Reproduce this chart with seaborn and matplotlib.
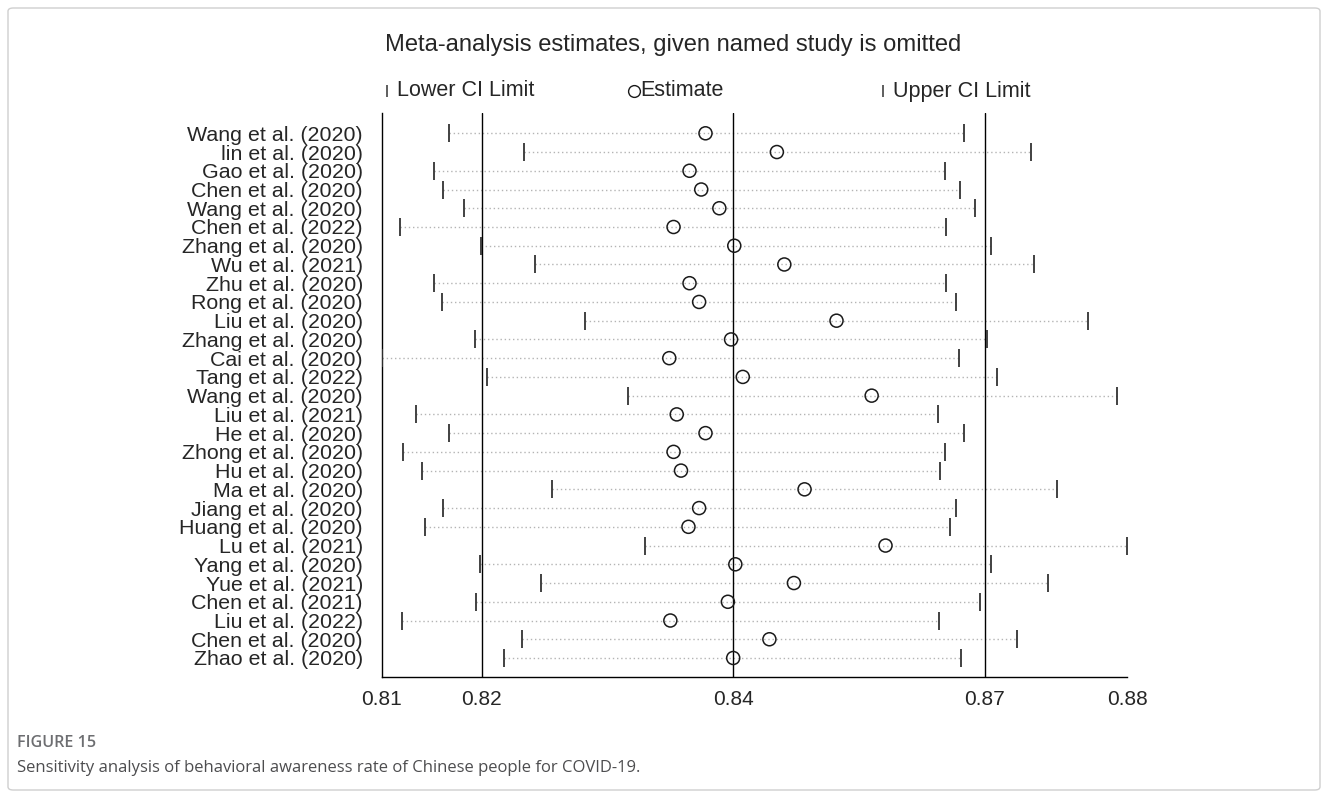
import matplotlib
matplotlib.use("Agg")
import matplotlib.pyplot as plt
import seaborn as sns
import pandas as pd
from matplotlib.lines import Line2D
from matplotlib.patches import FancyBboxPatch

# studies, top to bottom
studies = ["Wang et al. (2020)", "lin et al. (2020)", "Gao et al. (2020)", "Chen et al. (2020)",
           "Wang et al. (2020)", "Chen et al. (2022)", "Zhang et al. (2020)", "Wu et al. (2021)",
           "Zhu et al. (2020)", "Rong et al. (2020)", "Liu et al. (2020)", "Zhang et al. (2020)",
           "Cai et al. (2020)", "Tang et al. (2022)", "Wang et al. (2020)", "Liu et al. (2021)",
           "He et al. (2020)", "Zhong et al. (2020)", "Hu et al. (2020)", "Ma et al. (2020)",
           "Jiang et al. (2020)", "Huang et al. (2020)", "Lu et al. (2021)", "Yang et al. (2020)",
           "Yue et al. (2021)", "Chen et al. (2021)", "Liu et al. (2022)", "Chen et al. (2020)",
           "Zhao et al. (2020)"]

estimate = [0.8404, 0.8471, 0.8389, 0.8400, 0.8417, 0.8374, 0.8431, 0.8478,
            0.8389, 0.8398, 0.8527, 0.8428, 0.8370, 0.8439, 0.8560, 0.8377,
            0.8404, 0.8374, 0.8381, 0.8497, 0.8398, 0.8388, 0.8573, 0.8432,
            0.8487, 0.8425, 0.8371, 0.8464, 0.8430]

lower = [0.8163, 0.8234, 0.8149, 0.8158, 0.8177, 0.8117, 0.8193, 0.8244,
         0.8149, 0.8157, 0.8291, 0.8188, 0.8100, 0.8199, 0.8331, 0.8132,
         0.8163, 0.8120, 0.8138, 0.8260, 0.8158, 0.8141, 0.8347, 0.8192,
         0.8250, 0.8189, 0.8119, 0.8232, 0.8215]

upper = [0.8647, 0.8710, 0.8629, 0.8643, 0.8657, 0.8630, 0.8672, 0.8712,
         0.8630, 0.8639, 0.8763, 0.8668, 0.8642, 0.8678, 0.8790, 0.8622,
         0.8647, 0.8629, 0.8624, 0.8734, 0.8639, 0.8634, 0.8800, 0.8672,
         0.8726, 0.8662, 0.8623, 0.8696, 0.8644]

# pooled: lower CI, estimate, upper CI ; axis ends at min lower / max upper
pooled = [0.8194, 0.8430, 0.8666]
xticks = [0.8100, 0.8194, 0.8430, 0.8666, 0.8800]
xticklabels = ["0.81", "0.82", "0.84", "0.87", "0.88"]

df = pd.DataFrame({"study": studies, "est": estimate, "lo": lower, "hi": upper})
df["row"] = range(len(df))

sns.set_style("white")
plt.rcParams["font.family"] = ["Liberation Sans", "DejaVu Sans"]

W, H = 1328, 798
fig = plt.figure(figsize=(W / 100, H / 100), dpi=100)
ax = fig.add_axes([381.7 / W, 1 - 677.3 / H, 745.6 / W, (677.3 - 113) / H])

# dotted CI lines
ax.hlines(df["row"], df["lo"], df["hi"], colors="#b4b4b4", linestyles=(0, (1, 2)), lw=1.0, zorder=1)

# reference lines
for v in pooled:
    ax.axvline(v, color="black", lw=1.0, zorder=2)

sns.scatterplot(data=df, x="lo", y="row", marker="|", s=150, color="#333333", linewidth=1.3, ax=ax, zorder=3)
sns.scatterplot(data=df, x="hi", y="row", marker="|", s=150, color="#333333", linewidth=1.3, ax=ax, zorder=3)
pts = sns.scatterplot(data=df, x="est", y="row", marker="o", s=88, ax=ax, zorder=4)
pts.collections[-1].set_facecolor("none")
pts.collections[-1].set_edgecolor("#1a1a1a")
pts.collections[-1].set_linewidth(1.1)

ax.set_xlim(xticks[0], xticks[-1])
ax.set_ylim(29.03, -1.083)
ax.set_xticks(xticks)
ax.set_xticklabels(xticklabels, fontsize=15)
ax.set_yticks(df["row"])
ax.set_yticklabels(df["study"], fontsize=15.4)
ax.tick_params(axis="x", direction="out", length=8, width=1.0, pad=1, color="black")
ax.tick_params(axis="y", length=0, pad=13.5)
ax.set_xlabel("")
ax.set_ylabel("")
for s in ["top", "right"]:
    ax.spines[s].set_visible(False)
for s in ["left", "bottom"]:
    ax.spines[s].set_color("black")
    ax.spines[s].set_linewidth(1.0)

# title and legend row
fig.text(385 / W, 1 - 45 / H, "Meta-analysis estimates, given named study is omitted",
         fontsize=17.1, va="center", ha="left")
key_y = 1 - 91 / H
fig.add_artist(Line2D([386.5 / W], [key_y], marker="|", markersize=9, color="#333333",
                      markeredgewidth=1.1, transform=fig.transFigure))
fig.text(397 / W, key_y, "Lower CI Limit", fontsize=15.5, va="center", ha="left")
fig.add_artist(Line2D([634 / W], [key_y], marker="o", markersize=8.5, markerfacecolor="none",
                      markeredgecolor="#1a1a1a", markeredgewidth=1.0, transform=fig.transFigure))
fig.text(640 / W, key_y, "Estimate", fontsize=15.5, va="center", ha="left")
fig.add_artist(Line2D([883 / W], [key_y], marker="|", markersize=9, color="#333333",
                      markeredgewidth=1.1, transform=fig.transFigure))
fig.text(893 / W, key_y, "Upper CI Limit", fontsize=15.5, va="center", ha="left")

# caption
fig.text(17 / W, 1 - 743 / H, "FIGURE 15", fontsize=11.6, color="#6d6e71", va="center",
         ha="left", family=["Open Sans", "DejaVu Sans"], fontweight="semibold")
fig.text(17 / W, 1 - 768 / H, "Sensitivity analysis of behavioral awareness rate of Chinese people for COVID-19.",
         fontsize=12.0, color="#4d4d4f", va="center", ha="left", family=["Open Sans", "DejaVu Sans"])

# outer frame
fig.add_artist(FancyBboxPatch((8 / W, 8 / H), 1312 / W, 782 / H, boxstyle="round,pad=0,rounding_size=0.004",
                              transform=fig.transFigure, fill=False, edgecolor="#cfcfcf", lw=1.0))

fig.savefig("out.png", dpi=100)
